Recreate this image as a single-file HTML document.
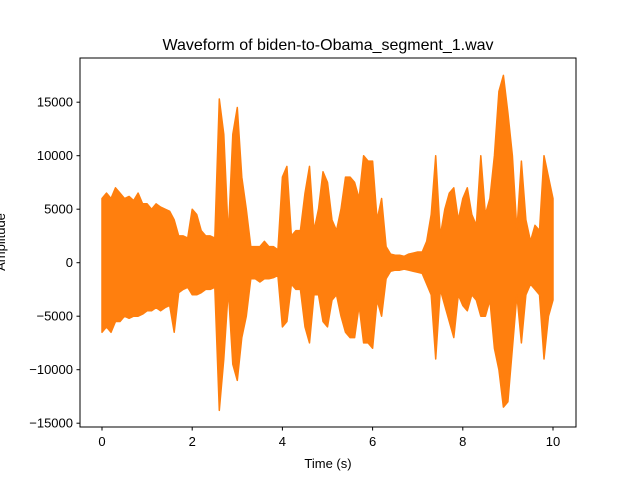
<!DOCTYPE html>
<html><head><meta charset="utf-8"><style>
body{margin:0;background:#fff}
svg text{font-family:"Liberation Sans","DejaVu Sans",sans-serif;fill:#000}
</style></head><body>
<svg id="chart" width="640" height="480" viewBox="0 0 640 480">
<rect x="0" y="0" width="640" height="480" fill="#fff"/>
<text x="328" y="50" font-size="16" text-anchor="middle">Waveform of biden-to-Obama_segment_1.wav</text>
<g id="plot"></g>
<rect x="80" y="58" width="496" height="369" fill="none" stroke="#000" stroke-width="1"/>
<g id="xticks"></g>
<g id="yticks"></g>
<text x="328" y="468" font-size="13" text-anchor="middle">Time (s)</text>
<text x="0" y="0" font-size="13" text-anchor="middle" transform="translate(5,242) rotate(-90)">Amplitude</text>
</svg>
<script>
const times = [0,0.1,0.2,0.3,0.4,0.5,0.6,0.7,0.8,0.9,1.0,1.1,1.2,1.3,1.4,1.5,1.6,1.7,1.8,1.9,2.0,2.1,2.2,2.3,2.4,2.5,2.6,2.7,2.8,2.9,3.0,3.1,3.2,3.3,3.4,3.5,3.6,3.7,3.8,3.9,4.0,4.1,4.2,4.3,4.4,4.5,4.6,4.7,4.8,4.9,5.0,5.1,5.2,5.3,5.4,5.5,5.6,5.7,5.8,5.9,6.0,6.1,6.2,6.3,6.4,6.5,6.6,6.7,6.8,6.9,7.0,7.1,7.2,7.3,7.4,7.5,7.6,7.7,7.8,7.9,8.0,8.1,8.2,8.3,8.4,8.5,8.6,8.7,8.8,8.9,9.0,9.1,9.2,9.3,9.4,9.5,9.6,9.7,9.8,9.9,10.0];
const maxVals = [6000,6500,6000,7000,6500,6000,6200,5800,6500,5500,5500,5000,5500,5200,5000,4800,4000,2500,2500,2300,5000,4500,3000,2500,2500,2300,15300,12000,2500,12000,14500,8000,5000,1500,1500,1500,2000,1500,1500,1200,8000,9000,2500,3000,3000,6500,9000,3000,5000,8500,7500,4000,3000,5000,8000,8000,7500,6000,10000,9500,9500,4000,6000,1500,800,700,700,600,800,900,1000,1000,2000,4500,10000,2500,5000,6500,7000,4000,6000,7000,4500,3500,10000,4500,6000,10000,16000,17500,14000,10000,3000,9500,4000,2000,3500,3000,10000,8000,6000];
const minVals = [-6500,-6000,-6500,-5500,-5500,-5000,-5200,-5000,-5000,-4800,-4500,-4500,-4200,-4500,-4200,-4000,-6500,-2800,-2500,-2300,-3000,-3000,-2800,-2500,-2500,-2300,-13800,-9000,-2500,-9500,-11000,-7000,-5000,-1500,-1500,-1800,-1500,-1500,-1400,-1200,-6000,-5500,-2000,-2500,-2500,-6000,-7500,-3000,-3000,-5500,-6000,-3500,-3000,-5000,-6500,-7000,-7000,-4000,-7500,-7500,-8000,-3500,-5000,-1500,-800,-700,-700,-600,-700,-800,-900,-1000,-2000,-3000,-9000,-2500,-4000,-5500,-7000,-3000,-4000,-4500,-3000,-3500,-5000,-5000,-3500,-8000,-10000,-13500,-13000,-8000,-3000,-7500,-3000,-2000,-2500,-3000,-9000,-5000,-3500];
const xTicks = [0,2,4,6,8,10];
const yTicks = [-15000,-10000,-5000,0,5000,10000,15000];
const NS='http://www.w3.org/2000/svg';
function xs(t){return 102+45.1*t;}
function ys(v){return 262.7-v*0.0107;}
const plot=document.getElementById('plot');
let d='';
for(let i=0;i<times.length;i++){d+=(i?'L':'M')+xs(times[i]).toFixed(1)+','+ys(maxVals[i]).toFixed(1);}
for(let i=times.length-1;i>=0;i--){d+='L'+xs(times[i]).toFixed(1)+','+ys(minVals[i]).toFixed(1);}
d+='Z';
const p=document.createElementNS(NS,'path');
p.setAttribute('d',d);p.setAttribute('fill','#ff7f0e');p.setAttribute('stroke','#ff7f0e');p.setAttribute('stroke-width','1.5');p.setAttribute('stroke-linejoin','round');


plot.appendChild(p);
const xg=document.getElementById('xticks');
xTicks.forEach(t=>{
 const l=document.createElementNS(NS,'line');
 l.setAttribute('x1',xs(t));l.setAttribute('x2',xs(t));l.setAttribute('y1',427);l.setAttribute('y2',430.5);l.setAttribute('stroke','#000');
 
 
 xg.appendChild(l);
 const tx=document.createElementNS(NS,'text');
 tx.setAttribute('x',xs(t));tx.setAttribute('y',446);tx.setAttribute('font-size','13');tx.setAttribute('text-anchor','middle');tx.textContent=t;
 
 
 xg.appendChild(tx);
});
const yg=document.getElementById('yticks');
yTicks.forEach(v=>{
 const l=document.createElementNS(NS,'line');
 l.setAttribute('x1',76.5);l.setAttribute('x2',80);l.setAttribute('y1',ys(v));l.setAttribute('y2',ys(v));l.setAttribute('stroke','#000');
 
 
 yg.appendChild(l);
 const tx=document.createElementNS(NS,'text');
 tx.setAttribute('x',73);tx.setAttribute('y',ys(v)+4.5);tx.setAttribute('font-size','13');tx.setAttribute('text-anchor','end');tx.textContent=(v<0?'\u2212':'')+Math.abs(v);
 
 
 yg.appendChild(tx);
});
</script>
</body></html>
